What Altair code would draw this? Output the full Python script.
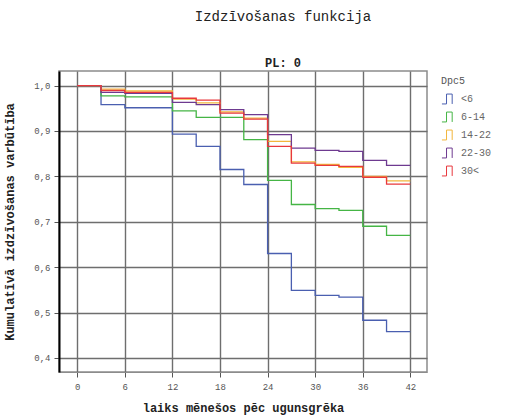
import altair as alt
import pandas as pd

times = [0, 3, 6, 12, 15, 18, 21, 24, 27, 30, 33, 36, 39, 42]
groups = ["<6", "6-14", "14-22", "22-30", "30<"]
s_lt6 = [1.0, 0.958, 0.951, 0.893, 0.866, 0.815, 0.782, 0.630, 0.549, 0.538, 0.534, 0.483, 0.458, 0.458]
s_6_14 = [1.0, 0.977, 0.975, 0.944, 0.930, 0.930, 0.881, 0.791, 0.738, 0.729, 0.725, 0.690, 0.670, 0.670]
s_14_22 = [1.0, 0.992, 0.988, 0.970, 0.962, 0.942, 0.928, 0.877, 0.832, 0.826, 0.820, 0.800, 0.790, 0.790]
s_22_30 = [1.0, 0.985, 0.983, 0.963, 0.958, 0.947, 0.936, 0.892, 0.862, 0.857, 0.855, 0.835, 0.824, 0.824]
s_30p = [1.0, 0.989, 0.985, 0.972, 0.968, 0.939, 0.926, 0.866, 0.829, 0.824, 0.822, 0.798, 0.783, 0.783]
colors = ["#4a5fb0", "#45b545", "#f2b63c", "#6e3a90", "#e8383d"]
x_ticks = [0, 6, 12, 18, 24, 30, 36, 42]
y_ticks = [0.4, 0.5, 0.6, 0.7, 0.8, 0.9, 1.0]

series = [s_lt6, s_6_14, s_14_22, s_22_30, s_30p]
rows = []
for g, vals in zip(groups, series):
    for t, v in zip(times, vals):
        rows.append({"t": t, "s": v, "g": g})
df = pd.DataFrame(rows)

FONT = "Liberation Mono"
sym = "M -1 0.7 L -0.35 0.7 L -0.35 -0.7 L 0.45 -0.7 L 0.45 0.7"

chart = alt.Chart(df).mark_line(interpolate="step-after", strokeWidth=1.3, clip=True).encode(
    x=alt.X("t:Q", scale=alt.Scale(domain=[-2.3, 44.1], nice=False, zero=False),
            axis=alt.Axis(values=x_ticks, title="laiks mēnešos pēc ugunsgrēka",
                          grid=True, tickSize=5, labelPadding=5, titlePadding=11)),
    y=alt.Y("s:Q", scale=alt.Scale(domain=[0.369, 1.032], nice=False, zero=False),
            axis=alt.Axis(values=y_ticks, title="Kumulatīvā izdzīvošanas varbūtība",
                          labelExpr="replace(format(datum.value, '.1f'), '.', ',')",
                          grid=True, tickSize=5, labelPadding=4, titlePadding=17,
                          domainColor="#000000", domainWidth=2)),
    color=alt.Color("g:N", scale=alt.Scale(domain=groups, range=colors),
                    legend=alt.Legend(title="Dpc5", orient="none", legendX=382, legendY=5,
                                      symbolType=sym, symbolSize=200, symbolStrokeWidth=1,
                                      symbolFillColor="transparent", rowPadding=3,
                                      labelOffset=4)),
    order=alt.Order("g:N"),
).properties(
    width=368, height=301,
    title=alt.TitleParams("Izdzīvošanas funkcija", subtitle="PL: 0",
                          fontSize=14, font=FONT, fontWeight="normal", color="#222222",
                          subtitleFont=FONT, subtitleFontSize=12, subtitleFontWeight="bold",
                          subtitleColor="#222222", subtitlePadding=34,
                          anchor="middle", frame="group", dx=40, offset=2),
    autosize=alt.AutoSizeParams(type="none"),
    padding={"left": 59, "top": 71, "right": 97, "bottom": 43},
).configure_view(
    stroke="#8c8c8c", strokeWidth=1.5
).configure_axis(
    gridColor="#6e6e6e", gridWidth=1.4, gridOpacity=1,
    domainColor="#8c8c8c", tickColor="#555555",
    labelFont=FONT, labelFontSize=9, labelColor="#555555",
    titleFont=FONT, titleFontSize=12, titleFontWeight="bold", titleColor="#222222",
).configure_legend(
    titleFont=FONT, titleFontSize=10, titleFontWeight="normal", titleColor="#555555",
    labelFont=FONT, labelFontSize=10, labelColor="#666666",
)

chart.save("out.html", embed_options={"renderer": "svg", "actions": False})
